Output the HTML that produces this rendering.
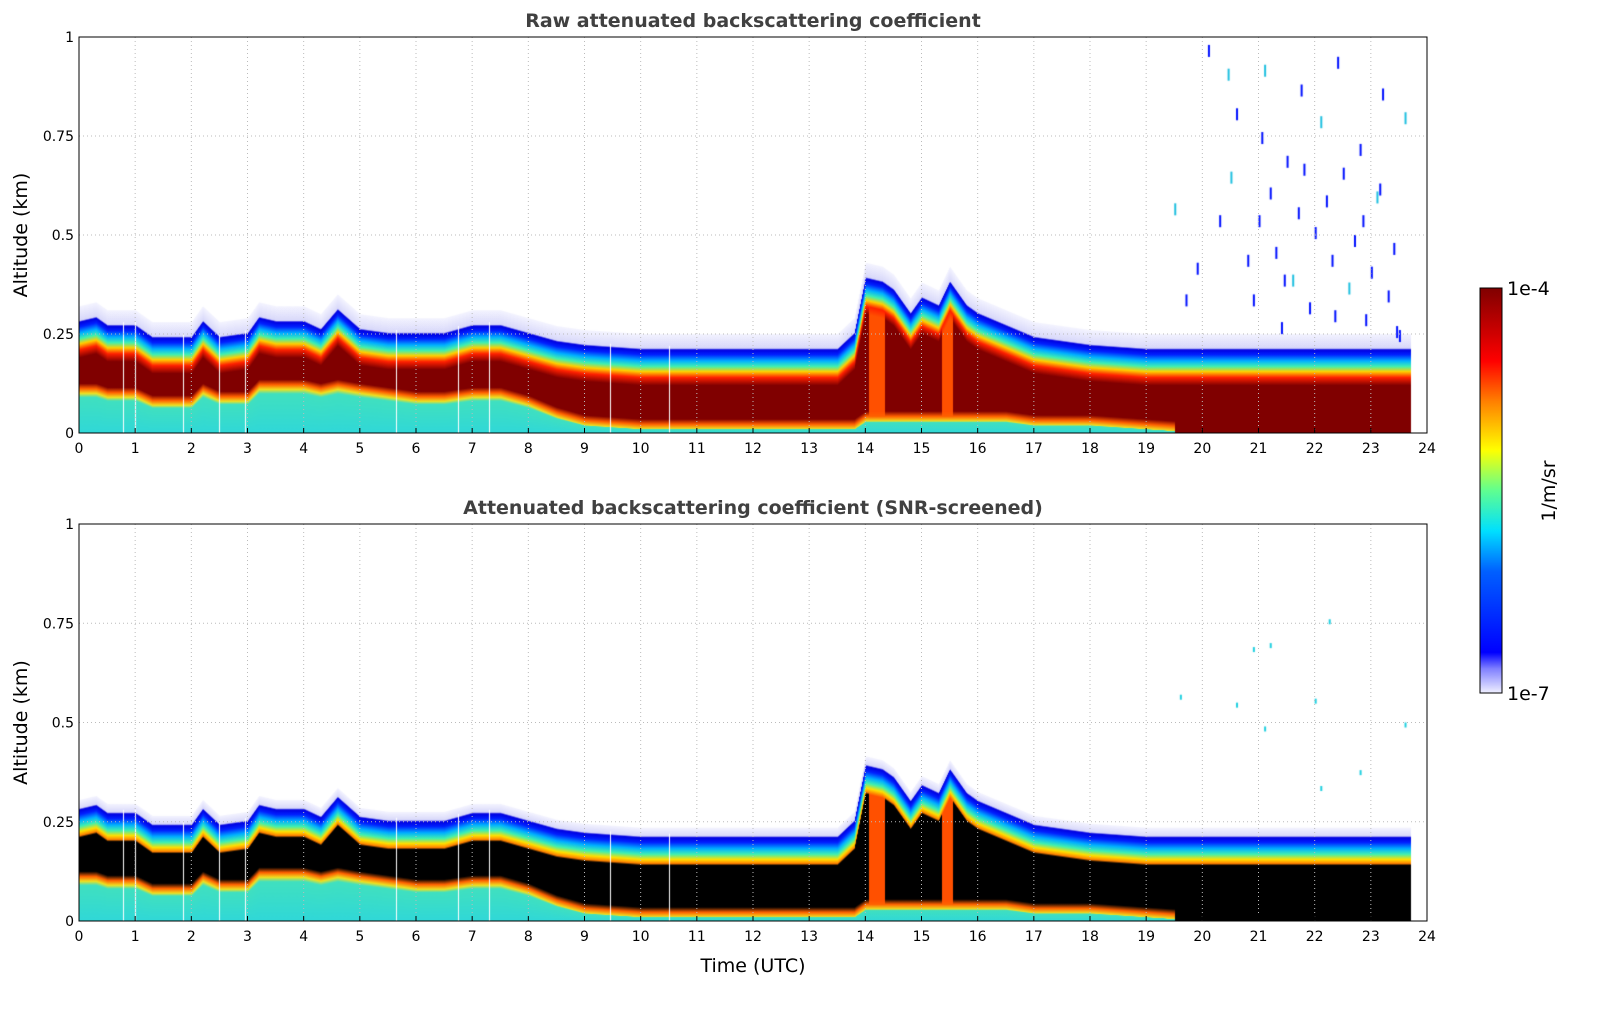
<!DOCTYPE html>
<html><head><meta charset="utf-8">
<style>
body{margin:0;background:#fff;font-family:"DejaVu Sans","Liberation Sans",sans-serif;}
#wrap{position:relative;width:1621px;height:1020px;overflow:hidden;}
canvas{position:absolute;left:0;top:0;}
text{font-family:"DejaVu Sans","Liberation Sans",sans-serif;}
</style></head>
<body>
<div id="wrap">
<canvas id="c" width="1621" height="1020"></canvas>
<svg id="s" width="1621" height="1020" style="position:absolute;left:0;top:0"></svg>
</div>
<script>
// ---- data (time in UTC hours, altitudes in km) ----
const times   = [0,0.3,0.5,1,1.3,2,2.2,2.5,3,3.2,3.5,4,4.3,4.6,5,5.5,6,6.5,7,7.5,8,8.5,9,10,11,12,13,13.5,13.8,14,14.3,14.5,14.8,15,15.3,15.5,15.8,16,16.5,17,18,19,20,21,22,23,23.7];
const topAlt  = [0.28,0.29,0.27,0.27,0.24,0.24,0.28,0.24,0.25,0.29,0.28,0.28,0.26,0.31,0.26,0.25,0.25,0.25,0.27,0.27,0.25,0.23,0.22,0.21,0.21,0.21,0.21,0.21,0.25,0.39,0.38,0.36,0.30,0.34,0.32,0.38,0.32,0.30,0.27,0.24,0.22,0.21,0.21,0.21,0.21,0.21,0.21];
const lowAlt  = [0.10,0.10,0.09,0.09,0.07,0.07,0.10,0.08,0.08,0.11,0.11,0.11,0.10,0.11,0.10,0.09,0.08,0.08,0.09,0.09,0.07,0.04,0.02,0.01,0.01,0.01,0.01,0.01,0.01,0.03,0.03,0.03,0.03,0.03,0.03,0.03,0.03,0.03,0.03,0.02,0.02,0.01,0.00,0.00,0.00,0.00,0.00];
const gapTimes = [0.78,1.0,1.85,2.5,2.95,5.65,6.75,7.3,9.45,10.5];
const noiseT = [19.5,19.7,19.9,20.1,20.3,20.5,20.6,20.8,20.9,21.0,21.1,21.2,21.3,21.4,21.5,21.6,21.7,21.8,21.9,22.0,22.1,22.2,22.3,22.4,22.5,22.6,22.7,22.8,22.9,23.0,23.1,23.2,23.3,23.4,23.5,23.6,21.05,21.75,22.35,23.15,20.45,22.85,21.45,23.45];
const noiseA = [0.58,0.35,0.43,0.98,0.55,0.66,0.82,0.45,0.35,0.55,0.93,0.62,0.47,0.28,0.70,0.40,0.57,0.68,0.33,0.52,0.80,0.60,0.45,0.95,0.67,0.38,0.50,0.73,0.30,0.42,0.61,0.87,0.36,0.48,0.26,0.81,0.76,0.88,0.31,0.63,0.92,0.55,0.40,0.27];
const sNoiseT = [19.6,20.6,20.9,21.1,21.2,22.0,22.1,22.25,22.8,23.6];
const sNoiseA = [0.57,0.55,0.69,0.49,0.70,0.56,0.34,0.76,0.38,0.50];
const xTicks = [0,1,2,3,4,5,6,7,8,9,10,11,12,13,14,15,16,17,18,19,20,21,22,23,24];
const yTicks = [0,0.25,0.5,0.75,1];
const yTickLabels = ["0","0.25","0.5","0.75","1"];

const X0=79,X1=1427;
const panels=[{top:37,bot:433,title:"Raw attenuated backscattering coefficient",mode:0},
              {top:524,bot:921,title:"Attenuated backscattering coefficient (SNR-screened)",mode:1}];
const xs=t=>X0+t/24*(X1-X0);
function ys(p,a){return p.bot-a*(p.bot-p.top);}
function interp(arr,t){for(let i=0;i<times.length-1;i++){if(t<=times[i+1]){const f=(t-times[i])/(times[i+1]-times[i]);return arr[i]+f*(arr[i+1]-arr[i]);}}return arr[arr.length-1];}

const ctx=document.getElementById('c').getContext('2d');
ctx.fillStyle="#fff";ctx.fillRect(0,0,1621,1020);
const tEnd=23.7;
panels.forEach(p=>{
  for(let px=X0;px<xs(tEnd);px++){
    const t=(px-X0)/(X1-X0)*24;
    const top=interp(topAlt,t), low=interp(lowAlt,t);
    const H=top+(p.mode?0.025:0.04);
    const yTop=ys(p,H), y0=p.bot;
    const g=ctx.createLinearGradient(0,y0,0,yTop);
    const f=a=>Math.max(0,Math.min(1,a/H));
    const core=p.mode?"#000000":"#800000";
    const spike=(t>14.05&&t<14.35)||(t>15.35&&t<15.55);
    const cc=spike?"#ff5000":core;
    if(low>0.005){
      g.addColorStop(0,"#30d8d8");
      g.addColorStop(f(low*0.9),"#40e0c0");g.addColorStop(f(low),"#f0e020");g.addColorStop(f(low+0.012),"#ff6000");
      g.addColorStop(f(low+0.025),cc);
    } else {g.addColorStop(0,cc);}
    g.addColorStop(f(top-(p.mode?0.07:0.09)),cc);
    if(!p.mode){g.addColorStop(f(top-0.07),"#ff2000");g.addColorStop(f(top-0.055),"#ffd000");}
    else{g.addColorStop(f(top-0.065),"#ff8000");g.addColorStop(f(top-0.055),"#ffe000");}
    g.addColorStop(f(top-0.042),"#40f0b0");
    g.addColorStop(f(top-0.028),"#00b0ff");
    g.addColorStop(f(top-0.012),"#0020ff");
    g.addColorStop(f(top),"#0000e0");
    g.addColorStop(f(top+0.004),"#d8d8fa");
    g.addColorStop(1,"#f4f4ff");
    ctx.fillStyle=g;ctx.fillRect(px,yTop,1,y0-yTop);
  }
  ctx.fillStyle="#fff";
  gapTimes.forEach(t=>{const yy=ys(p,interp(topAlt,t)+0.01);ctx.fillRect(Math.round(xs(t)),yy,1,p.bot-yy);});
  const nt=p.mode?sNoiseT:noiseT, na=p.mode?sNoiseA:noiseA;
  nt.forEach((t,i)=>{ctx.fillStyle=p.mode?"#20d0e0":(i%5==0?"#20c0e0":"#0010ff");ctx.fillRect(xs(t),ys(p,na[i]),2,p.mode?5:12);});
});
// colorbar
const cb=ctx.createLinearGradient(0,693,0,288);
[["#f0f0ff",0],["#8080ff",0.06],["#0000ff",0.1],["#0060ff",0.3],["#00e0ff",0.4],["#60ff90",0.5],["#ffff00",0.6],["#ff8000",0.72],["#ff0000",0.82],["#800000",1]].forEach(s=>cb.addColorStop(s[1],s[0]));
ctx.fillStyle=cb;ctx.fillRect(1480,288,22,405);

// ---- SVG overlay (axes, grid, text) ----
const svg=document.getElementById('s');const NS="http://www.w3.org/2000/svg";
function el(tag,attrs,txt){const e=document.createElementNS(NS,tag);for(const k in attrs)e.setAttribute(k,attrs[k]);if(txt!==undefined)e.textContent=txt;svg.appendChild(e);return e;}
panels.forEach((p,pi)=>{
  xTicks.forEach(t=>{
    const g=el('line',{x1:xs(t),x2:xs(t),y1:p.top,y2:p.bot,stroke:"#bbb","stroke-dasharray":"1,3","stroke-width":1});
    
    const tk=el('line',{x1:xs(t),x2:xs(t),y1:p.bot,y2:p.bot-5,stroke:"#000"});
    
    const lb=el('text',{x:xs(t),y:p.bot+20,"text-anchor":"middle","font-size":14},String(t));
    
  });
  yTicks.forEach((a,i)=>{
    const g=el('line',{x1:X0,x2:X1,y1:ys(p,a),y2:ys(p,a),stroke:"#bbb","stroke-dasharray":"1,3"});
    
    const lb=el('text',{x:X0-5,y:ys(p,a)+5,"text-anchor":"end","font-size":14},yTickLabels[i]);
    
  });
  const r=el('rect',{x:X0,y:p.top,width:X1-X0,height:p.bot-p.top,fill:"none",stroke:"#000"});
  
  const tt=el('text',{x:(X0+X1)/2,y:p.top-10,"text-anchor":"middle","font-size":19,"font-weight":"bold",fill:"#404040"},p.title);
  
  const yt=el('text',{x:0,y:0,"text-anchor":"middle","font-size":19,transform:`translate(27,${(p.top+p.bot)/2}) rotate(-90)`},"Altitude (km)");
  
});
const xt=el('text',{x:753,y:972,"text-anchor":"middle","font-size":19},"Time (UTC)");

const cf=el('rect',{x:1480,y:288,width:22,height:405,fill:"none",stroke:"#000"});

const c1=el('text',{x:1507,y:295,"font-size":19},"1e-4");

const c2=el('text',{x:1507,y:700,"font-size":19},"1e-7");

const cu=el('text',{x:0,y:0,"text-anchor":"middle","font-size":19,transform:"translate(1555,491) rotate(-90)"},"1/m/sr");

</script>
</body></html>
